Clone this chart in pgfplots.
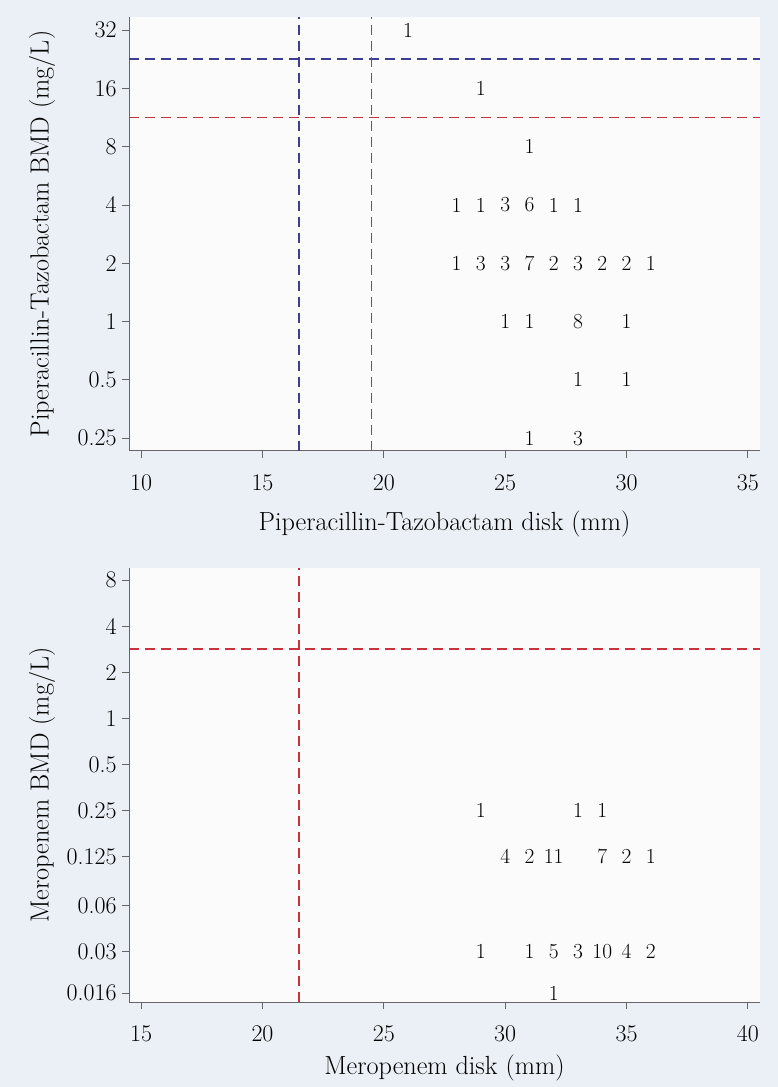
\documentclass[border=0pt]{standalone}
\usepackage{fontspec}
\usepackage{pgfplots}
\pgfplotsset{compat=1.18}
\definecolor{bgout}{HTML}{EAF0F5}
\definecolor{bgin}{HTML}{FBFBFC}
\definecolor{lineblue}{HTML}{3E3D8F}
\definecolor{linered}{HTML}{C8323C}
\definecolor{axgray}{HTML}{666666}

\pgfplotstableread{
x y c
21 32 1
24 16 1
26 8 1
23 4 1
24 4 1
25 4 3
26 4 6
27 4 1
28 4 1
23 2 1
24 2 3
25 2 3
26 2 7
27 2 2
28 2 3
29 2 2
30 2 2
31 2 1
25 1 1
26 1 1
28 1 8
30 1 1
28 0.5 1
30 0.5 1
26 0.25 1
28 0.25 3
}\pipdata

\pgfplotstableread{
x y c
29 0.25 1
33 0.25 1
34 0.25 1
30 0.125 4
31 0.125 2
32 0.125 11
34 0.125 7
35 0.125 2
36 0.125 1
29 0.03 1
31 0.03 1
32 0.03 5
33 0.03 3
34 0.03 10
35 0.03 4
36 0.03 2
32 0.016 1
}\merdata

\pgfplotsset{
  cnt/.style={draw=none, mark=none, nodes near coords, point meta=explicit symbolic,
    nodes near coords align=center,
    every node near coord/.style={font=\fontsize{21.5}{23}\selectfont, anchor=center, inner sep=0pt}},
}

\begin{document}
\begin{tikzpicture}
\fill[bgout] (0,0) rectangle (778bp,1087bp);
\begin{axis}[at={(129bp,636bp)},
  /pgf/number format/assume math mode=true,
  ymode=log, log basis y=2,
  scale only axis, width=631bp, height=434bp,
  anchor=south west,
  axis lines*=left,
  axis line style={axgray, line width=1pt},
  axis background/.style={fill=bgin},
  tick align=outside,
  major tick length=7bp,
  tick style={axgray, line width=0.8pt},
  xtick pos=bottom, ytick pos=left,
  xticklabel style={font=\fontsize{24}{27}\selectfont, yshift=-13bp},
  yticklabel style={font=\fontsize{24}{27}\selectfont, xshift=-2bp},
  xlabel style={font=\fontsize{26.3}{30}\selectfont, at={(axis description cs:0.5,0)}, anchor=center, yshift=-73bp},
  ylabel style={font=\fontsize{26.3}{30}\selectfont, at={(axis description cs:-0.1379,0.5)}, anchor=center},
  clip=false,
  xmin=9.5, xmax=35.5, xtick={10,15,20,25,30,35},
  xticklabels={10,15,20,25,30,35},
  ymin=0.2147, ymax=37.35,
  ytick={0.25,0.5,1,2,4,8,16,32},
  yticklabels={0.25,0.5,1,2,4,8,16,32},
  xlabel={Piperacillin-Tazobactam disk (mm)},
  ylabel={Piperacillin-Tazobactam BMD (mg/L)},
]
\addplot[color=lineblue, draw=lineblue, line width=1.3bp, dash pattern=on 10bp off 6bp] coordinates {(16.5,0.2147) (16.5,37.35)};
\addplot[color=lineblue, draw=lineblue, line width=1.3bp, dash pattern=on 10bp off 6bp] coordinates {(9.5,22.627) (35.5,22.627)};
\addplot[cnt] table[x=x,y=y,meta=c] {\pipdata};
\end{axis}
\begin{axis}[at={(129bp,85bp)},
  /pgf/number format/assume math mode=true,
  ymode=log, log basis y=2,
  scale only axis, width=631bp, height=434bp,
  anchor=south west,
  axis lines*=left,
  axis line style={axgray, line width=1pt},
  axis background/.style={fill=bgin},
  tick align=outside,
  major tick length=7bp,
  tick style={axgray, line width=0.8pt},
  xtick pos=bottom, ytick pos=left,
  xticklabel style={font=\fontsize{24}{27}\selectfont, yshift=-13bp},
  yticklabel style={font=\fontsize{24}{27}\selectfont, xshift=-2bp},
  xlabel style={font=\fontsize{26.3}{30}\selectfont, at={(axis description cs:0.5,0)}, anchor=center, yshift=-66bp},
  ylabel style={font=\fontsize{26.3}{30}\selectfont, at={(axis description cs:-0.1379,0.5)}, anchor=center},
  clip=false,
  xmin=14.5, xmax=40.5, xtick={15,20,25,30,35,40},
  xticklabels={15,20,25,30,35,40},
  ymin=0.01403, ymax=9.58,
  ytick={0.016,0.03,0.06,0.125,0.25,0.5,1,2,4,8},
  yticklabels={0.016,0.03,0.06,0.125,0.25,0.5,1,2,4,8},
  xlabel={Meropenem disk (mm)},
  ylabel={Meropenem BMD (mg/L)},
]
\addplot[color=linered, draw=linered, line width=1.3bp, dash pattern=on 10bp off 6bp] coordinates {(21.5,0.01403) (21.5,9.58)};
\addplot[color=linered, draw=linered, line width=1.3bp, dash pattern=on 10bp off 6bp] coordinates {(14.5,2.828) (40.5,2.828)};
\addplot[cnt] table[x=x,y=y,meta=c] {\merdata};
\end{axis}
% overlay axis on the top panel for its red breakpoint lines
\begin{axis}[at={(129bp,636bp)},
  ymode=log, log basis y=2,
  scale only axis, width=631bp, height=434bp,
  anchor=south west,
  hide axis, clip=false,
  xmin=9.5, xmax=35.5,
  ymin=0.2147, ymax=37.35,
]
\addplot[color=linered, draw=linered, line width=1.3bp, dash pattern=on 10bp off 6bp] coordinates {(19.5,0.2147) (19.5,37.35)};
\addplot[color=linered, draw=linered, line width=1.3bp, dash pattern=on 10bp off 6bp] coordinates {(9.5,11.314) (35.5,11.314)};
\end{axis}
\end{tikzpicture}
\end{document}
